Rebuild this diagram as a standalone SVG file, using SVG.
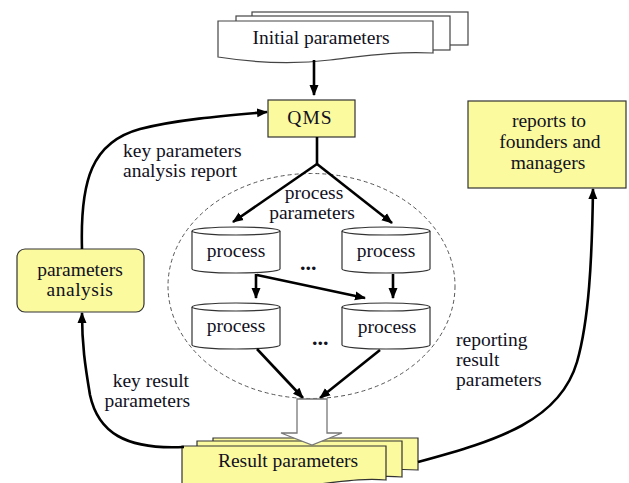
<svg xmlns="http://www.w3.org/2000/svg" xmlns:xlink="http://www.w3.org/1999/xlink" width="629" height="483" viewBox="0 0 629 483">
<style>
text{font-family:'Liberation Serif','Times New Roman',serif;font-size:19.5px;fill:#111122}
.c{text-anchor:middle}
.r{text-anchor:end}
.doc{fill:#ffffff;stroke:#444;stroke-width:1.2}
.ydoc{fill:#fbfa9e;stroke:#333;stroke-width:1.2}
.box{fill:#fbfa9e;stroke:#333;stroke-width:1.2}
.cyl{fill:#ffffff;stroke:#333;stroke-width:1.2}
.ln{fill:none;stroke:#000;stroke-width:2.6}
.ar{marker-end:url(#ah)}
</style>
<defs>
<marker id="ah" markerWidth="11" markerHeight="10" refX="10" refY="5" orient="auto" markerUnits="userSpaceOnUse">
<path d="M0,0.5 L11,5 L0,9.5 Z" fill="#000"/>
</marker>
<g id="cylshape">
<path class="cyl" d="M0,4 V42 A44,4 0 0 0 88,42 V4 A44,4 0 0 0 0,4 Z"/>
<path fill="none" stroke="#333" stroke-width="1.2" d="M0,4 A44,4 0 0 0 88,4"/>
</g>
</defs>
<rect width="629" height="483" fill="#ffffff"/>

<ellipse cx="311.5" cy="286" rx="143.5" ry="112.5" fill="none" stroke="#555" stroke-width="1" stroke-dasharray="4 3"/>

<g font-family="Liberation Serif, Times New Roman, serif">
<g id="initial-parameters">
<rect class="doc" x="252" y="12" width="216" height="33"/>
<rect class="doc" x="236" y="16" width="214" height="34"/>
<path class="doc" d="M218,21 H433 V53 C395,51 365,56 330,60 C290,65 250,62 218,57 Z"/>
<text class="c" x="321" y="44">Initial parameters</text>
</g>

<g id="qms">
<rect class="box" x="268" y="100" width="87" height="37"/>
<text class="c" x="310" y="124" style="letter-spacing:1px">QMS</text>
</g>

<g id="reports">
<rect class="box" x="468" y="101" width="158" height="87"/>
<text class="c" x="549" y="127">reports to</text>
<text class="c" x="550" y="148">founders and</text>
<text class="c" x="548" y="169">managers</text>
</g>

<g id="parameters-analysis">
<rect class="box" x="17" y="249" width="127" height="63" rx="8" ry="8"/>
<text class="c" x="80" y="276">parameters</text>
<text class="c" x="80" y="296" style="letter-spacing:0.5px">analysis</text>
</g>

<g id="process-1">
<use xlink:href="#cylshape" x="192" y="227"/>
<text class="c" x="236" y="257">process</text>
</g>
<g id="process-2">
<use xlink:href="#cylshape" x="342" y="227"/>
<text class="c" x="386" y="257">process</text>
</g>
<g id="process-3">
<use xlink:href="#cylshape" x="192" y="303"/>
<text class="c" x="236" y="332">process</text>
</g>
<g id="process-4">
<use xlink:href="#cylshape" x="342" y="303"/>
<text class="c" x="387" y="333">process</text>
</g>

<g id="result-parameters">
<path class="ydoc" d="M213,438 H418 V470 C390,468 370,472 340,476 C300,481 260,478 213,474 Z"/>
<path class="ydoc" d="M197,441 H402 V477 C375,475 355,479 325,482 C290,486 240,483 197,480 Z"/>
<path class="ydoc" d="M182,446 H386 V480 C360,478 340,482 310,485 C270,489 220,487 182,484 Z"/>
<text class="c" x="288" y="467">Result parameters</text>
</g>

<g id="connectors">
<path class="ln ar" d="M314,60 V95"/>
<path class="ln" d="M317,137 V164"/>
<path class="ln ar" d="M317,164 L233,222"/>
<path class="ln ar" d="M317,164 L392,223"/>
<path class="ln ar" d="M256,274 V298"/>
<path class="ln ar" d="M257,275 L365,298"/>
<path class="ln ar" d="M393,274 V298"/>
<path class="ln ar" d="M257,349 L303,398"/>
<path class="ln ar" d="M380,350 L320,398"/>
<path fill="#fff" stroke="#777" stroke-width="1.3" d="M297,399 H327 V433 H342 L312,445 L281,433 H297 Z"/>
<path class="ln ar" d="M82,249 C80,180 92,142 140,129 C175,120 220,116 267,112"/>
<path class="ln ar" d="M184,447 C125,450 98,432 90,395 C85,365 82,345 82,313"/>
<path class="ln ar" d="M418,462 C500,440 560,420 577,362 C589,320 592,260 593,189"/>
</g>

<g id="labels">
<text x="123" y="157">key parameters</text>
<text x="123" y="177">analysis report</text>
<text class="c" x="314" y="199">process</text>
<text class="c" x="312" y="219">parameters</text>
<text x="300" y="270" style="font-weight:bold;font-size:22px">...</text>
<text x="312" y="345" style="font-weight:bold;font-size:22px">...</text>
<text class="r" x="189" y="387">key result</text>
<text class="r" x="190" y="407">parameters</text>
<text x="456" y="346">reporting</text>
<text x="456" y="366">result</text>
<text x="456" y="386">parameters</text>
</g>
</g>
</svg>
